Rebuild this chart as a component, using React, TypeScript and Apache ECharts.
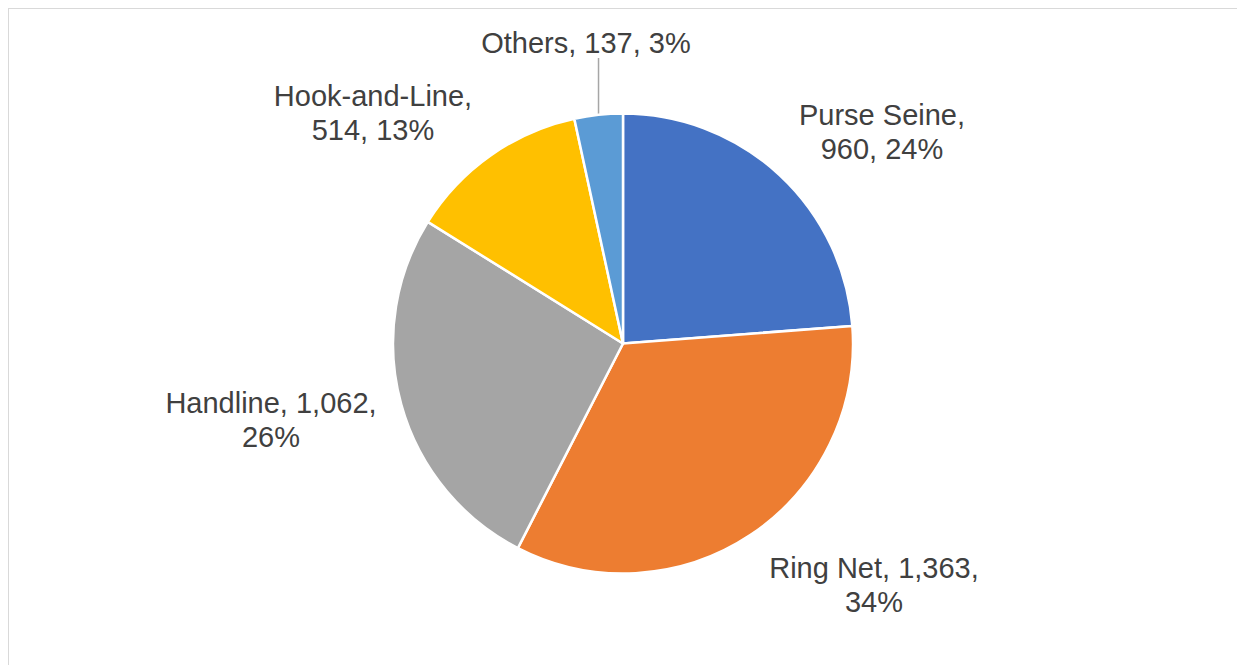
import React, { useEffect, useRef } from "react";
import * as echarts from "echarts";

const categories = ["Purse Seine", "Ring Net", "Handline", "Hook-and-Line", "Others"];
const values = [960, 1363, 1062, 514, 137];
const colors = ["#4472C4", "#ED7D31", "#A5A5A5", "#FFC000", "#5B9BD5"];
// how many of the three label parts (name, value, percent) go on the first line
const labelBreak = [1, 2, 2, 1, 3];
const showLeader = [false, false, false, false, true];
// label block centres, in chart pixels
const labelPos: [number, number][] = [
  [873, 123],
  [865, 576],
  [262, 411],
  [364, 104],
  [577, 34],
];

export default function App() {
  const ref = useRef<HTMLDivElement>(null);
  useEffect(() => {
    if (!ref.current) return;
    const chart = echarts.init(ref.current, undefined, { renderer: "svg" });
    const data = categories.map((name, i) => ({
      name,
      value: values[i],
      itemStyle: { color: colors[i] },
      labelLine: { show: showLeader[i] },
    }));
    chart.setOption({
      animation: false,
      backgroundColor: "#ffffff",
      series: [
        {
          type: "pie",
          center: [614, 334.5],
          radius: [0, 230],
          startAngle: 90,
          clockwise: true,
          silent: true,
          data,
          itemStyle: { borderColor: "#ffffff", borderWidth: 2.5 },
          label: {
            show: true,
            position: "outside",
            fontFamily: "'Liberation Sans', Arial, sans-serif",
            fontSize: 29,
            lineHeight: 34,
            color: "#404040",
            align: "center",
            formatter: (p: any) => {
              const parts = [
                p.name + ",",
                Number(p.value).toLocaleString("en-US") + ",",
                Math.round(p.percent) + "%",
              ];
              const k = labelBreak[p.dataIndex];
              const first = parts.slice(0, k).join(" ");
              const second = parts.slice(k).join(" ");
              return second ? first + "\n" + second : first;
            },
          },
          labelLine: {
            show: true,
            length: 10,
            length2: 0,
            lineStyle: { color: "#A6A6A6", width: 1.5 },
          },
          labelLayout: (params: any) => {
            const i = params.dataIndex;
            const p = labelPos[i];
            const res: any = { x: p[0], y: p[1], align: "center", verticalAlign: "middle" };
            if (showLeader[i] && params.labelLinePoints && params.labelLinePoints[0]) {
              const a = params.labelLinePoints[0];
              const h = params.labelRect ? params.labelRect.height : 34;
              res.labelLinePoints = [
                [a[0], a[1]],
                [a[0], p[1] + h / 2 - 2],
              ];
            }
            return res;
          },
        },
      ],
    });
    return () => chart.dispose();
  }, []);
  return (
    <div
      style={{
        width: 1235,
        height: 680,
        border: "1px solid #d9d9d9",
        boxSizing: "border-box",
        background: "#fff",
      }}
    >
      <div ref={ref} style={{ width: 1233, height: 678 }} />
    </div>
  );
}
